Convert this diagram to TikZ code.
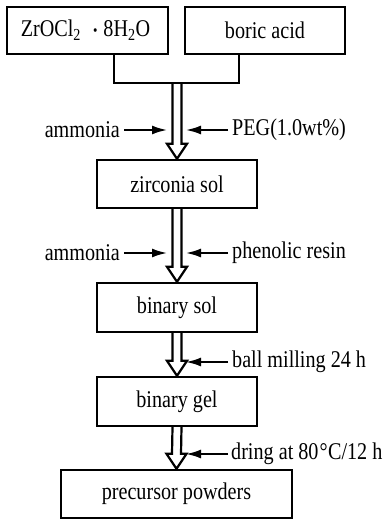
\documentclass[tikz,border=0pt]{standalone}
\usepackage{fontspec}
\setmainfont{Liberation Serif}[FakeStretch=0.84]
\usetikzlibrary{calc,arrows.meta}

% hollow double-shafted arrow from a start point down to a tip point
\newcommand\hollowarrow[2]{%
  \draw[shaft] ($(#1)+(-4.5,0)$) -- ($(#2)+(-4.5,-15)$) -- ($(#2)+(-10,-15)$)
    -- (#2) -- ($(#2)+(10,-15)$) -- ($(#2)+(4.5,-15)$) -- ($(#1)+(4.5,0)$);
}
% degree Celsius sign
\newcommand\degC{\kern1pt\textdegree\kern0.5pt C}

\begin{document}
\begin{tikzpicture}[x=1pt,y=-1pt,
  box/.style={draw, line width=2.4pt, inner sep=0pt, minimum height=47pt,
    font=\fontsize{24}{28}\selectfont},
  lbl/.style={inner sep=4pt, font=\fontsize{24}{28}\selectfont},
  shaft/.style={line width=2.2pt, line join=miter},
  side/.style={line width=2pt, -{Latex[length=15pt,width=9pt]}},
  link/.style={line width=2.2pt}
]
\useasboundingbox (0,0) rectangle (388,521);

% process boxes
\node[box, minimum width=161pt, text depth=4pt] (zr)  at (87.5,30.5) {\kern-4pt ZrOCl\textsubscript{2}\hspace{12pt}{\fontsize{15}{15}\selectfont\raisebox{1.5pt}{\textbullet}}\hspace{6pt}8H\textsubscript{2}O};
\node[box, minimum width=160pt] (ba)  at (265,30.5) {boric acid};
\node[box, minimum width=160pt, minimum height=48pt] (zs) at (177,184) {zirconia sol};
\node[box, minimum width=160pt, minimum height=49pt] (bs) at (177,307.5) {binary sol};
\node[box, minimum width=160pt, minimum height=49pt] (bg) at (177,401.5) {binary gel};
\node[box, minimum width=231pt, minimum height=48pt] (pp) at (176.5,494) {precursor powders};

% merge of the two starting materials
\coordinate (zrdown) at (114,83);
\coordinate (badown) at (239,83);
\coordinate (join) at (177,83);
\draw[link] (zr.south -| zrdown) -- (zrdown) -- (badown) -- (ba.south -| badown);

% main flow
\hollowarrow{join}{zs.north}
\hollowarrow{zs.south}{bs.north}
\hollowarrow{bs.south}{bg.north}
\hollowarrow{bg.south}{pp.north}

% additions, step 1
\node[lbl, anchor=east] (am1) at (124,130) {ammonia};
\coordinate (am1tip) at (167,130);
\draw[side] (am1.east) -- (am1tip);
\node[lbl, anchor=west] (peg) at (228,130) {PEG(1.0wt\%)};
\coordinate (pegtip) at (186,130);
\draw[side] (peg.west) -- (pegtip);

% additions, step 2
\node[lbl, anchor=east] (am2) at (124,253) {ammonia};
\coordinate (am2tip) at (167,253);
\draw[side] (am2.east) -- (am2tip);
\node[lbl, anchor=west] (pr) at (228,253) {phenolic resin};
\coordinate (prtip) at (186,253);
\draw[side] (pr.west) -- (prtip);

% step 3
\node[lbl, anchor=west] (bm) at (228,362) {ball milling 24 h};
\coordinate (bmtip) at (186,362);
\draw[side] (bm.west) -- (bmtip);

% step 4
\node[lbl, anchor=west, inner sep=3pt] (dr) at (228,454) {dring at 80\degC/12 h};
\coordinate (drtip) at (186,454);
\draw[side] (dr.west) -- (drtip);
\end{tikzpicture}
\end{document}
